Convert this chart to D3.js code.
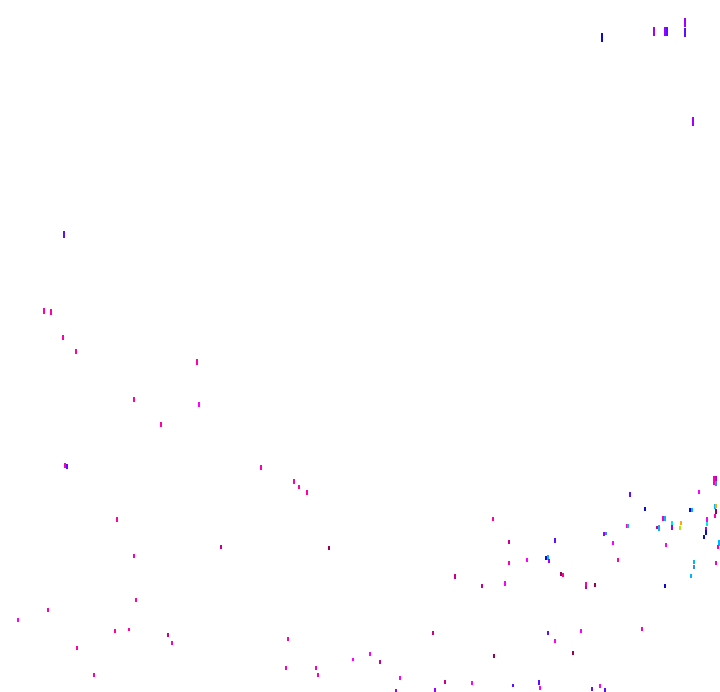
<!DOCTYPE html>
<html>
<head>
<meta charset="utf-8">
<script src="https://cdnjs.cloudflare.com/ajax/libs/d3/7.8.5/d3.min.js"></script>
<style>
  body { margin: 0; background: #fff; }
  svg { display: block; }
</style>
</head>
<body>
<svg width="720" height="692"></svg>
<script>
// groups and their colours
var groups = ["m", "p", "d", "r", "v", "i", "b", "c", "t", "o", "y", "a"];
var groupColors = ["#ff00aa", "#ff00ff", "#cc0088", "#990055", "#a000ff", "#5a10ff",
    "#0a0acc", "#00b4ff", "#00e8e8", "#ffaa00", "#aaee00", "#3388ff"];

// each mark: x, top y, span, group
var xVals = [601, 653, 664, 666, 684, 684, 692,
    63, 43, 50, 62, 75, 196, 133, 198, 160, 64, 66, 116,
    260, 293, 298, 306, 220, 133, 328, 135, 47, 17, 114, 128, 167, 171, 76, 93,
    287, 369, 352, 379, 285, 315, 317, 399, 444, 471, 395, 434, 432, 493, 512, 538, 539,
    454, 492, 508, 554, 526, 545, 547, 548, 508, 560, 562, 481, 504, 585, 585, 594,
    547, 554, 580, 572, 641, 591, 599, 604,
    713, 715, 715, 629, 698, 644, 689, 691, 714, 715, 715, 714, 662, 664, 626, 627,
    656, 658, 671, 671, 680, 679, 706, 706, 705, 705, 703, 603, 605, 612, 665,
    718, 717, 617, 693, 693, 715, 690, 664];
var yVals = [33, 27, 27, 27, 18, 28, 117,
    231, 308, 309, 335, 349, 359, 397, 402, 422, 463, 464, 517,
    465, 479, 485, 490, 545, 554, 546, 598, 608, 618, 629, 628, 633, 641, 646, 673,
    637, 652, 658, 660, 666, 666, 673, 676, 680, 681, 689, 688, 631, 654, 684, 680, 686,
    574, 517, 540, 538, 558, 556, 555, 559, 561, 572, 573, 584, 581, 582, 586, 583,
    631, 639, 629, 651, 627, 687, 684, 688,
    476, 476, 481, 492, 490, 507, 508, 508, 504, 504, 509, 514, 516, 516, 524, 524,
    526, 525, 521, 525, 521, 526, 517, 522, 527, 530, 535, 532, 532, 541, 543,
    540, 545, 558, 560, 565, 561, 574, 584];
var spans = [9, 9, 9, 9, 9, 9, 9,
    7, 6, 6, 5, 5, 6, 5, 5, 5, 5, 5, 5,
    5, 5, 4, 5, 4, 4, 4, 4, 4, 4, 4, 3, 4, 4, 4, 4,
    4, 4, 3, 4, 4, 4, 4, 4, 4, 4, 3, 4, 4, 4, 3, 5, 4,
    5, 4, 4, 5, 4, 4, 5, 4, 4, 4, 4, 4, 5, 4, 3, 4,
    4, 4, 4, 4, 4, 4, 4, 4,
    9, 5, 5, 5, 4, 4, 4, 4, 5, 4, 5, 4, 5, 5, 4, 4,
    3, 6, 4, 5, 4, 4, 5, 4, 5, 5, 4, 4, 3, 4, 4,
    6, 4, 4, 4, 4, 4, 4, 4];
var markGroups = ["b", "v", "v", "i", "v", "i", "v",
    "i", "m", "m", "m", "m", "m", "m", "p", "m", "m", "i", "m",
    "m", "m", "m", "m", "d", "m", "r", "m", "m", "p", "m", "m", "d", "m", "m", "m",
    "m", "p", "p", "d", "m", "m", "m", "p", "d", "p", "v", "v", "d", "r", "i", "i", "p",
    "d", "m", "d", "i", "p", "b", "c", "v", "m", "r", "m", "d", "p", "m", "d", "r",
    "i", "p", "p", "r", "m", "i", "p", "i",
    "m", "v", "a", "i", "p", "b", "b", "c", "c", "o", "r", "m", "m", "c", "m", "c",
    "d", "c", "t", "v", "o", "y", "p", "t", "v", "b", "b", "v", "a", "p", "p",
    "c", "m", "m", "c", "a", "m", "c", "b"];

var svg = d3.select("svg"),
    width = +svg.attr("width"),
    height = +svg.attr("height");

var x = d3.scaleLinear().domain([0, 720]).range([0, width]);
var y = d3.scaleLinear().domain([0, 692]).range([0, height]);
var color = d3.scaleOrdinal().domain(groups).range(groupColors);

var marks = xVals.map(function(d, i) {
    return {x: d, y: yVals[i], span: spans[i], group: markGroups[i]};
});

svg.append("g")
    .attr("class", "marks")
    .selectAll("rect")
    .data(marks)
    .enter().append("rect")
    .attr("shape-rendering", "crispEdges")
    .attr("x", function(d) { return Math.round(x(d.x)); })
    .attr("y", function(d) { return Math.round(y(d.y)); })
    .attr("width", 2)
    .attr("height", function(d) { return y(d.y + d.span) - y(d.y); })
    .attr("fill", function(d) { return color(d.group); });
</script>
</body>
</html>
